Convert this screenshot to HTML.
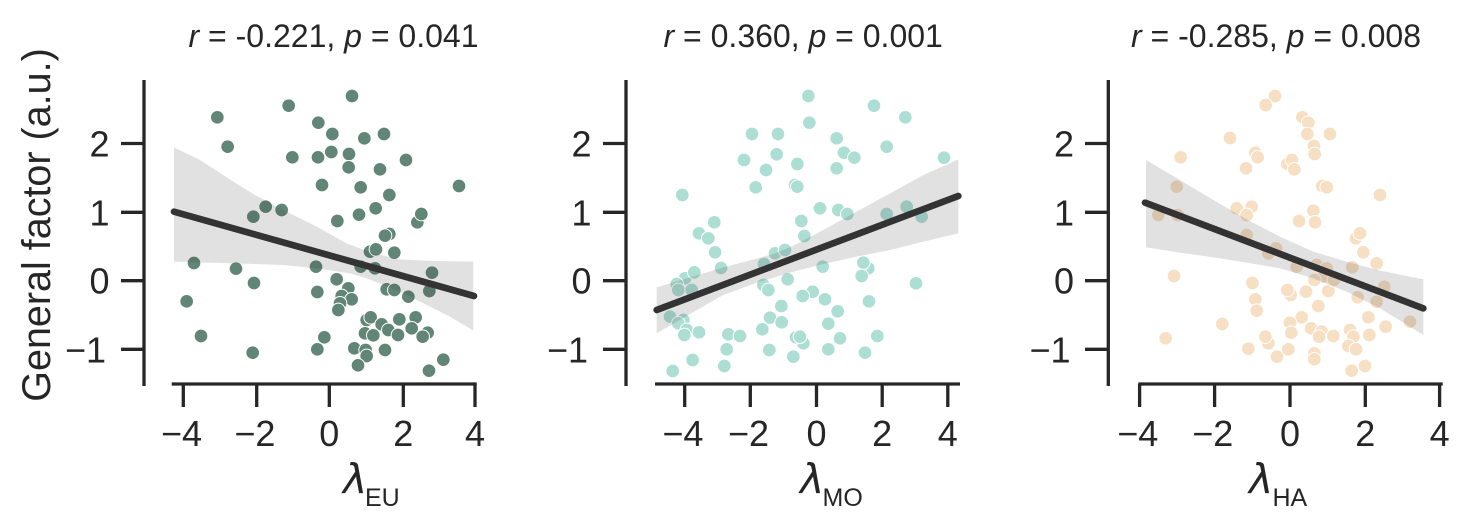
<!DOCTYPE html>
<html><head><meta charset="utf-8"><style>
html,body{margin:0;padding:0;background:#fff;}
svg{display:block;}
text{font-family:"Liberation Sans",Arial,sans-serif;fill:#262626;}
</style></head><body>
<svg width="1460" height="518" viewBox="0 0 1460 518" xmlns="http://www.w3.org/2000/svg">
<rect width="1460" height="518" fill="#fff"/>

<!-- ===== Panel 1 ===== -->
<g transform="translate(0,60) scale(0.333333)">
<g fill="#618576" stroke="#fff" stroke-width="3">
<circle cx="652" cy="172" r="20.5"/><circle cx="683" cy="260" r="20.5"/><circle cx="866" cy="137" r="20.5"/><circle cx="1056" cy="108" r="20.5"/>
<circle cx="955" cy="188" r="20.5"/><circle cx="997" cy="222" r="20.5"/><circle cx="1093" cy="235" r="20.5"/><circle cx="1152" cy="222" r="20.5"/>
<circle cx="877" cy="292" r="20.5"/><circle cx="954" cy="292" r="20.5"/><circle cx="994" cy="276" r="20.5"/><circle cx="1047" cy="282" r="20.5"/>
<circle cx="1046" cy="322" r="20.5"/><circle cx="1140" cy="328" r="20.5"/><circle cx="1218" cy="300" r="20.5"/><circle cx="966" cy="375" r="20.5"/>
<circle cx="1082" cy="382" r="20.5"/><circle cx="1377" cy="378" r="20.5"/><circle cx="1168" cy="405" r="20.5"/><circle cx="797" cy="440" r="20.5"/>
<circle cx="845" cy="450" r="20.5"/><circle cx="760" cy="470" r="20.5"/><circle cx="1127" cy="445" r="20.5"/><circle cx="1077" cy="464" r="20.5"/>
<circle cx="1012" cy="483" r="20.5"/><circle cx="1252" cy="487" r="20.5"/><circle cx="1264" cy="462" r="20.5"/><circle cx="1168" cy="522" r="20.5"/>
<circle cx="1155" cy="527" r="20.5"/><circle cx="1183" cy="578" r="20.5"/><circle cx="1110" cy="575" r="20.5"/><circle cx="1128" cy="568" r="20.5"/>
<circle cx="582" cy="609" r="20.5"/><circle cx="708" cy="626" r="20.5"/><circle cx="948" cy="620" r="20.5"/><circle cx="1082" cy="620" r="20.5"/>
<circle cx="1125" cy="625" r="20.5"/><circle cx="1296" cy="638" r="20.5"/><circle cx="762" cy="669" r="20.5"/><circle cx="1010" cy="658" r="20.5"/>
<circle cx="560" cy="724" r="20.5"/><circle cx="952" cy="696" r="20.5"/><circle cx="1045" cy="685" r="20.5"/><circle cx="1160" cy="688" r="20.5"/>
<circle cx="1183" cy="690" r="20.5"/><circle cx="1025" cy="708" r="20.5"/><circle cx="1055" cy="718" r="20.5"/><circle cx="1225" cy="710" r="20.5"/>
<circle cx="1288" cy="693" r="20.5"/><circle cx="1020" cy="730" r="20.5"/><circle cx="1015" cy="750" r="20.5"/><circle cx="1100" cy="780" r="20.5"/>
<circle cx="1112" cy="772" r="20.5"/><circle cx="1145" cy="793" r="20.5"/><circle cx="1165" cy="810" r="20.5"/><circle cx="1198" cy="778" r="20.5"/>
<circle cx="1247" cy="772" r="20.5"/><circle cx="1235" cy="805" r="20.5"/><circle cx="1194" cy="825" r="20.5"/><circle cx="1283" cy="818" r="20.5"/>
<circle cx="1268" cy="830" r="20.5"/><circle cx="1095" cy="820" r="20.5"/><circle cx="1120" cy="826" r="20.5"/><circle cx="603" cy="828" r="20.5"/>
<circle cx="973" cy="832" r="20.5"/><circle cx="1063" cy="865" r="20.5"/><circle cx="1097" cy="870" r="20.5"/><circle cx="1155" cy="870" r="20.5"/>
<circle cx="758" cy="878" r="20.5"/><circle cx="952" cy="868" r="20.5"/><circle cx="1100" cy="888" r="20.5"/><circle cx="1074" cy="916" r="20.5"/>
<circle cx="1287" cy="932" r="20.5"/><circle cx="1330" cy="899" r="20.5"/>
</g>
<polygon fill="#333333" fill-opacity="0.15" points="522,262 600,300 700,365 770,408 850,450 950,500 1040,550 1120,580 1200,598 1300,603 1420,605 1420,812 1350,770 1300,745 1250,720 1200,695 1150,675 1100,655 1050,640 950,625 850,615 700,610 522,605"/>
<line x1="522" y1="455" x2="1422" y2="708" stroke="#333333" stroke-width="20" stroke-linecap="round"/>
</g>
<!-- axes 1 -->
<g stroke="#262626" stroke-width="3.3">
<line x1="144" y1="80" x2="144" y2="386"/>
<line x1="171.7" y1="384" x2="476.7" y2="384"/>
<line x1="121" y1="143.5" x2="144" y2="143.5"/><line x1="121" y1="212.3" x2="144" y2="212.3"/><line x1="121" y1="280.7" x2="144" y2="280.7"/><line x1="121" y1="349.3" x2="144" y2="349.3"/>
<line x1="183.3" y1="384" x2="183.3" y2="407"/><line x1="256.7" y1="384" x2="256.7" y2="407"/><line x1="329.3" y1="384" x2="329.3" y2="407"/><line x1="403.3" y1="384" x2="403.3" y2="407"/><line x1="475" y1="384" x2="475" y2="407"/>
</g>
<g font-size="36" text-anchor="end">
<text x="109.5" y="156.5">2</text><text x="109.5" y="225.3">1</text><text x="109.5" y="293.7">0</text><text x="106" y="362.3">−1</text>
</g>
<g font-size="36" text-anchor="middle">
<text x="181.5" y="446">−4</text><text x="254.9" y="446">−2</text><text x="329.3" y="446">0</text><text x="403.3" y="446">2</text><text x="475" y="446">4</text>
</g>
<text font-size="32" x="188.5" y="47"><tspan font-style="italic">r</tspan> = -0.221, <tspan font-style="italic">p</tspan> = 0.041</text>
<text x="343" y="493" font-size="41" style="font-family:'DejaVu Sans',sans-serif;font-style:italic;">λ</text>
<text x="365" y="506" font-size="25">EU</text>
<text font-size="39.5" text-anchor="middle" transform="translate(50,225) rotate(-90)">General factor (a.u.)</text>

<!-- ===== Panel 2 ===== -->
<g transform="translate(490,60) scale(0.333333)">
<g fill="#acded4" stroke="#fff" stroke-width="3">
<circle cx="955" cy="108" r="20.5"/><circle cx="1152" cy="137" r="20.5"/><circle cx="1246" cy="172" r="20.5"/><circle cx="958" cy="188" r="20.5"/>
<circle cx="786" cy="222" r="20.5"/><circle cx="864" cy="222" r="20.5"/><circle cx="1040" cy="235" r="20.5"/><circle cx="1190" cy="260" r="20.5"/>
<circle cx="860" cy="283" r="20.5"/><circle cx="1062" cy="278" r="20.5"/><circle cx="1093" cy="293" r="20.5"/><circle cx="1362" cy="293" r="20.5"/>
<circle cx="762" cy="300" r="20.5"/><circle cx="922" cy="312" r="20.5"/><circle cx="828" cy="330" r="20.5"/><circle cx="1040" cy="325" r="20.5"/>
<circle cx="797" cy="382" r="20.5"/><circle cx="915" cy="375" r="20.5"/><circle cx="922" cy="380" r="20.5"/><circle cx="577" cy="405" r="20.5"/>
<circle cx="990" cy="445" r="20.5"/><circle cx="1045" cy="450" r="20.5"/><circle cx="1072" cy="462" r="20.5"/><circle cx="1190" cy="462" r="20.5"/>
<circle cx="1250" cy="440" r="20.5"/><circle cx="1295" cy="470" r="20.5"/><circle cx="673" cy="487" r="20.5"/><circle cx="934" cy="483" r="20.5"/>
<circle cx="627" cy="520" r="20.5"/><circle cx="655" cy="535" r="20.5"/><circle cx="943" cy="528" r="20.5"/><circle cx="675" cy="577" r="20.5"/>
<circle cx="855" cy="580" r="20.5"/><circle cx="885" cy="570" r="20.5"/><circle cx="693" cy="624" r="20.5"/><circle cx="822" cy="612" r="20.5"/>
<circle cx="998" cy="620" r="20.5"/><circle cx="1135" cy="625" r="20.5"/><circle cx="1120" cy="608" r="20.5"/><circle cx="1115" cy="648" r="20.5"/>
<circle cx="585" cy="655" r="20.5"/><circle cx="613" cy="637" r="20.5"/><circle cx="560" cy="672" r="20.5"/><circle cx="565" cy="690" r="20.5"/>
<circle cx="605" cy="690" r="20.5"/><circle cx="820" cy="675" r="20.5"/><circle cx="835" cy="690" r="20.5"/><circle cx="893" cy="658" r="20.5"/>
<circle cx="968" cy="695" r="20.5"/><circle cx="938" cy="708" r="20.5"/><circle cx="1005" cy="718" r="20.5"/><circle cx="1278" cy="670" r="20.5"/>
<circle cx="1137" cy="724" r="20.5"/><circle cx="874" cy="738" r="20.5"/><circle cx="1043" cy="754" r="20.5"/><circle cx="540" cy="770" r="20.5"/>
<circle cx="580" cy="780" r="20.5"/><circle cx="565" cy="790" r="20.5"/><circle cx="590" cy="810" r="20.5"/><circle cx="583" cy="825" r="20.5"/>
<circle cx="627" cy="817" r="20.5"/><circle cx="840" cy="773" r="20.5"/><circle cx="875" cy="787" r="20.5"/><circle cx="817" cy="808" r="20.5"/>
<circle cx="1015" cy="791" r="20.5"/><circle cx="715" cy="823" r="20.5"/><circle cx="750" cy="828" r="20.5"/><circle cx="940" cy="850" r="20.5"/>
<circle cx="918" cy="832" r="20.5"/><circle cx="930" cy="830" r="20.5"/><circle cx="1050" cy="835" r="20.5"/><circle cx="1162" cy="828" r="20.5"/>
<circle cx="710" cy="868" r="20.5"/><circle cx="838" cy="870" r="20.5"/><circle cx="1015" cy="868" r="20.5"/><circle cx="1125" cy="878" r="20.5"/>
<circle cx="910" cy="890" r="20.5"/><circle cx="608" cy="900" r="20.5"/><circle cx="703" cy="918" r="20.5"/><circle cx="548" cy="933" r="20.5"/>
</g>
<polygon fill="#333333" fill-opacity="0.15" points="500,682 600,652 700,622 800,596 850,582 900,562 1000,510 1100,455 1200,400 1300,345 1405,298 1405,520 1300,545 1200,570 1100,590 1000,612 900,638 800,668 700,705 600,762 500,820"/>
<line x1="500" y1="750" x2="1405" y2="408" stroke="#333333" stroke-width="20" stroke-linecap="round"/>
</g>
<g stroke="#262626" stroke-width="3.3">
<line x1="626" y1="80" x2="626" y2="386"/>
<line x1="655" y1="384" x2="960" y2="384"/>
<line x1="603" y1="143.5" x2="626" y2="143.5"/><line x1="603" y1="212.3" x2="626" y2="212.3"/><line x1="603" y1="280.7" x2="626" y2="280.7"/><line x1="603" y1="349.3" x2="626" y2="349.3"/>
<line x1="684.7" y1="384" x2="684.7" y2="407"/><line x1="750.3" y1="384" x2="750.3" y2="407"/><line x1="816.5" y1="384" x2="816.5" y2="407"/><line x1="882.2" y1="384" x2="882.2" y2="407"/><line x1="947.8" y1="384" x2="947.8" y2="407"/>
</g>
<g font-size="36" text-anchor="end">
<text x="591.5" y="156.5">2</text><text x="591.5" y="225.3">1</text><text x="591.5" y="293.7">0</text><text x="588" y="362.3">−1</text>
</g>
<g font-size="36" text-anchor="middle">
<text x="682.9" y="446">−4</text><text x="748.5" y="446">−2</text><text x="816.5" y="446">0</text><text x="882.2" y="446">2</text><text x="947.8" y="446">4</text>
</g>
<text font-size="32" x="663.5" y="47"><tspan font-style="italic">r</tspan> = 0.360, <tspan font-style="italic">p</tspan> = 0.001</text>
<text x="800" y="493" font-size="41" style="font-family:'DejaVu Sans',sans-serif;font-style:italic;">λ</text>
<text x="822.5" y="506" font-size="25">MO</text>

<!-- ===== Panel 3 ===== -->
<g transform="translate(980,60) scale(0.333333)">
<g fill="#f6dfc3" stroke="#fff" stroke-width="3">
<circle cx="885" cy="108" r="20.5"/><circle cx="857" cy="135" r="20.5"/><circle cx="967" cy="172" r="20.5"/><circle cx="985" cy="188" r="20.5"/>
<circle cx="982" cy="222" r="20.5"/><circle cx="1050" cy="222" r="20.5"/><circle cx="750" cy="234" r="20.5"/><circle cx="1002" cy="258" r="20.5"/>
<circle cx="1004" cy="282" r="20.5"/><circle cx="602" cy="292" r="20.5"/><circle cx="826" cy="278" r="20.5"/><circle cx="833" cy="292" r="20.5"/>
<circle cx="922" cy="312" r="20.5"/><circle cx="936" cy="300" r="20.5"/><circle cx="943" cy="328" r="20.5"/><circle cx="798" cy="325" r="20.5"/>
<circle cx="1027" cy="378" r="20.5"/><circle cx="1040" cy="382" r="20.5"/><circle cx="590" cy="380" r="20.5"/><circle cx="1200" cy="405" r="20.5"/>
<circle cx="770" cy="445" r="20.5"/><circle cx="815" cy="440" r="20.5"/><circle cx="800" cy="465" r="20.5"/><circle cx="1000" cy="452" r="20.5"/>
<circle cx="957" cy="483" r="20.5"/><circle cx="1005" cy="487" r="20.5"/><circle cx="535" cy="465" r="20.5"/><circle cx="593" cy="465" r="20.5"/>
<circle cx="1128" cy="535" r="20.5"/><circle cx="1140" cy="520" r="20.5"/><circle cx="800" cy="525" r="20.5"/><circle cx="888" cy="565" r="20.5"/>
<circle cx="865" cy="580" r="20.5"/><circle cx="1150" cy="577" r="20.5"/><circle cx="1190" cy="610" r="20.5"/><circle cx="950" cy="620" r="20.5"/>
<circle cx="1010" cy="615" r="20.5"/><circle cx="1040" cy="625" r="20.5"/><circle cx="1117" cy="622" r="20.5"/><circle cx="1030" cy="650" r="20.5"/>
<circle cx="1003" cy="660" r="20.5"/><circle cx="582" cy="648" r="20.5"/><circle cx="817" cy="669" r="20.5"/><circle cx="932" cy="705" r="20.5"/>
<circle cx="922" cy="690" r="20.5"/><circle cx="978" cy="695" r="20.5"/><circle cx="1045" cy="693" r="20.5"/><circle cx="1062" cy="660" r="20.5"/>
<circle cx="1213" cy="680" r="20.5"/><circle cx="1133" cy="712" r="20.5"/><circle cx="1190" cy="725" r="20.5"/><circle cx="826" cy="718" r="20.5"/>
<circle cx="830" cy="752" r="20.5"/><circle cx="1015" cy="738" r="20.5"/><circle cx="965" cy="772" r="20.5"/><circle cx="1165" cy="772" r="20.5"/>
<circle cx="1290" cy="785" r="20.5"/><circle cx="727" cy="792" r="20.5"/><circle cx="930" cy="788" r="20.5"/><circle cx="993" cy="805" r="20.5"/>
<circle cx="1025" cy="815" r="20.5"/><circle cx="1060" cy="828" r="20.5"/><circle cx="1110" cy="810" r="20.5"/><circle cx="1120" cy="830" r="20.5"/>
<circle cx="1217" cy="800" r="20.5"/><circle cx="1168" cy="825" r="20.5"/><circle cx="934" cy="818" r="20.5"/><circle cx="865" cy="850" r="20.5"/>
<circle cx="856" cy="830" r="20.5"/><circle cx="1017" cy="830" r="20.5"/><circle cx="1105" cy="858" r="20.5"/><circle cx="557" cy="835" r="20.5"/>
<circle cx="805" cy="866" r="20.5"/><circle cx="925" cy="868" r="20.5"/><circle cx="1128" cy="868" r="20.5"/><circle cx="891" cy="890" r="20.5"/>
<circle cx="1003" cy="880" r="20.5"/><circle cx="1003" cy="898" r="20.5"/><circle cx="1155" cy="918" r="20.5"/><circle cx="1115" cy="932" r="20.5"/>
</g>
<polygon fill="#333333" fill-opacity="0.15" points="498,300 600,360 700,420 800,478 900,530 1000,575 1100,605 1200,632 1330,658 1330,825 1200,745 1100,695 1000,655 900,625 800,608 700,592 600,578 498,562"/>
<line x1="495" y1="428" x2="1330" y2="745" stroke="#333333" stroke-width="20" stroke-linecap="round"/>
</g>
<g stroke="#262626" stroke-width="3.3">
<line x1="1108.3" y1="80" x2="1108.3" y2="386"/>
<line x1="1138.3" y1="384" x2="1442.7" y2="384"/>
<line x1="1085" y1="143.5" x2="1108.3" y2="143.5"/><line x1="1085" y1="212.3" x2="1108.3" y2="212.3"/><line x1="1085" y1="280.7" x2="1108.3" y2="280.7"/><line x1="1085" y1="349.3" x2="1108.3" y2="349.3"/>
<line x1="1139.6" y1="384" x2="1139.6" y2="407"/><line x1="1214.6" y1="384" x2="1214.6" y2="407"/><line x1="1290" y1="384" x2="1290" y2="407"/><line x1="1365.3" y1="384" x2="1365.3" y2="407"/><line x1="1439.6" y1="384" x2="1439.6" y2="407"/>
</g>
<g font-size="36" text-anchor="end">
<text x="1074" y="156.5">2</text><text x="1074" y="225.3">1</text><text x="1074" y="293.7">0</text><text x="1070.5" y="362.3">−1</text>
</g>
<g font-size="36" text-anchor="middle">
<text x="1137.8" y="446">−4</text><text x="1212.8" y="446">−2</text><text x="1290" y="446">0</text><text x="1365.3" y="446">2</text><text x="1439.6" y="446">4</text>
</g>
<text font-size="32" x="1131" y="47"><tspan font-style="italic">r</tspan> = -0.285, <tspan font-style="italic">p</tspan> = 0.008</text>
<text x="1249" y="493" font-size="41" style="font-family:'DejaVu Sans',sans-serif;font-style:italic;">λ</text>
<text x="1272.5" y="506" font-size="25">HA</text>
</svg>
</body></html>
